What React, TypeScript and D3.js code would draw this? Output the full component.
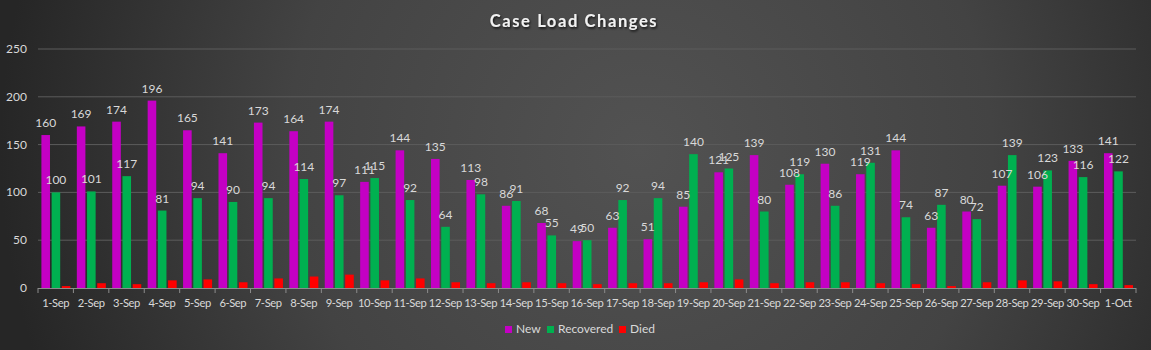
import * as d3 from 'd3'

const dates = [
  '1-Sep', '2-Sep', '3-Sep', '4-Sep', '5-Sep', '6-Sep', '7-Sep', '8-Sep', '9-Sep', '10-Sep',
  '11-Sep', '12-Sep', '13-Sep', '14-Sep', '15-Sep', '16-Sep', '17-Sep', '18-Sep', '19-Sep', '20-Sep',
  '21-Sep', '22-Sep', '23-Sep', '24-Sep', '25-Sep', '26-Sep', '27-Sep', '28-Sep', '29-Sep', '30-Sep',
  '1-Oct',
]
const newCases = [
  160, 169, 174, 196, 165, 141, 173, 164, 174, 111, 144, 135, 113, 86, 68, 49, 63, 51, 85, 121,
  139, 108, 130, 119, 144, 63, 80, 107, 106, 133, 141,
]
const recovered = [
  100, 101, 117, 81, 94, 90, 94, 114, 97, 115, 92, 64, 98, 91, 55, 50, 92, 94, 140, 125,
  80, 119, 86, 131, 74, 87, 72, 139, 123, 116, 122,
]
const died = [
  2, 5, 4, 8, 9, 6, 10, 12, 14, 8, 10, 6, 5, 6, 5, 4, 5, 5, 6, 9,
  5, 6, 6, 5, 4, 2, 6, 8, 7, 4, 3,
]
const seriesNames = ['New', 'Recovered', 'Died']
const seriesColors = ['#c400c4', '#00b050', '#ff0000']
const yTicks = [0, 50, 100, 150, 200, 250]

const W = 1151
const H = 350
const left = 38
const right = 1136
const top = 49
const bottom = 288

export default function App() {
  const x = d3.scaleBand().domain(dates).range([left, right]).padding(0)
  const inner = d3
    .scaleBand()
    .domain(seriesNames)
    .range([3.4, x.bandwidth() - 3])
    .paddingInner(0.16)
  const y = d3.scaleLinear().domain([0, 250]).range([bottom, top])

  const series = [newCases, recovered, died]
  const font = 'Lato, "Open Sans", sans-serif'

  return (
    <svg width={W} height={H} style={{ display: 'block', position: 'absolute', left: 0, top: 0 }}>
      <defs>
        <radialGradient id="bg" gradientUnits="userSpaceOnUse" cx={640} cy={150} r={640}>
          <stop offset="0" stopColor="#525252" />
          <stop offset="0.55" stopColor="#434343" />
          <stop offset="1" stopColor="#262626" />
        </radialGradient>
        <filter id="shadow" x="-10%" y="-30%" width="120%" height="160%">
          <feDropShadow dx="1" dy="1.5" stdDeviation="1" floodColor="#000" floodOpacity="0.8" />
        </filter>
      </defs>
      <rect x={0} y={0} width={W} height={H} fill="url(#bg)" />

      <text
        x={574}
        y={27}
        textAnchor="middle"
        fill="#f2f2f2"
        fontFamily={font}
        fontWeight="bold"
        fontSize={16.5}
        letterSpacing={1.6}
        filter="url(#shadow)"
      >
        Case Load Changes
      </text>

      {/* gridlines + y labels */}
      {yTicks.map(t => (
        <g key={t}>
          {t > 0 && (
            <line x1={left} x2={right} y1={y(t)} y2={y(t)} stroke="#5c5c5c" strokeWidth={1} />
          )}
          <text
            x={27}
            y={y(t) + 4}
            textAnchor="end"
            fill="#d9d9d9"
            fontFamily={font}
            fontSize={12}
          >
            {t}
          </text>
        </g>
      ))}

      {/* bars */}
      {series.map((vals, si) => (
        <g key={seriesNames[si]} fill={seriesColors[si]}>
          {vals.map((v, i) => (
            <rect
              key={i}
              x={x(dates[i]) + inner(seriesNames[si])}
              y={y(v)}
              width={inner.bandwidth()}
              height={y(0) - y(v)}
            />
          ))}
        </g>
      ))}

      {/* data labels for New and Recovered */}
      {series.slice(0, 2).map((vals, si) => (
        <g key={'lbl' + si} fill="#d9d9d9" fontFamily={font} fontSize={12} textAnchor="middle">
          {vals.map((v, i) => (
            <text
              key={i}
              x={x(dates[i]) + inner(seriesNames[si]) + inner.bandwidth() / 2}
              y={y(v) - 8}
            >
              {v}
            </text>
          ))}
        </g>
      ))}

      {/* x axis */}
      <line x1={left} x2={right} y1={bottom + 0.5} y2={bottom + 0.5} stroke="#8c8c8c" />
      {dates.concat(['end']).map((d, i) => (
        <line
          key={'t' + i}
          x1={left + i * x.step()}
          x2={left + i * x.step()}
          y1={bottom}
          y2={bottom + 5}
          stroke="#8c8c8c"
        />
      ))}
      {dates.map(d => (
        <text
          key={d}
          x={x(d) + x.bandwidth() / 2}
          y={307}
          textAnchor="middle"
          fill="#d9d9d9"
          fontFamily={font}
          fontSize={11.2}
          letterSpacing={-0.4}
        >
          {d}
        </text>
      ))}

      {/* legend */}
      {seriesNames.map((s, i) => {
        const lx = [505, 547, 619][i]
        return (
          <g key={s}>
            <rect x={lx} y={326} width={7} height={7} fill={seriesColors[i]} />
            <text x={lx + 11} y={333} fill="#d9d9d9" fontFamily={font} fontSize={12}>
              {s}
            </text>
          </g>
        )
      })}
    </svg>
  )
}
